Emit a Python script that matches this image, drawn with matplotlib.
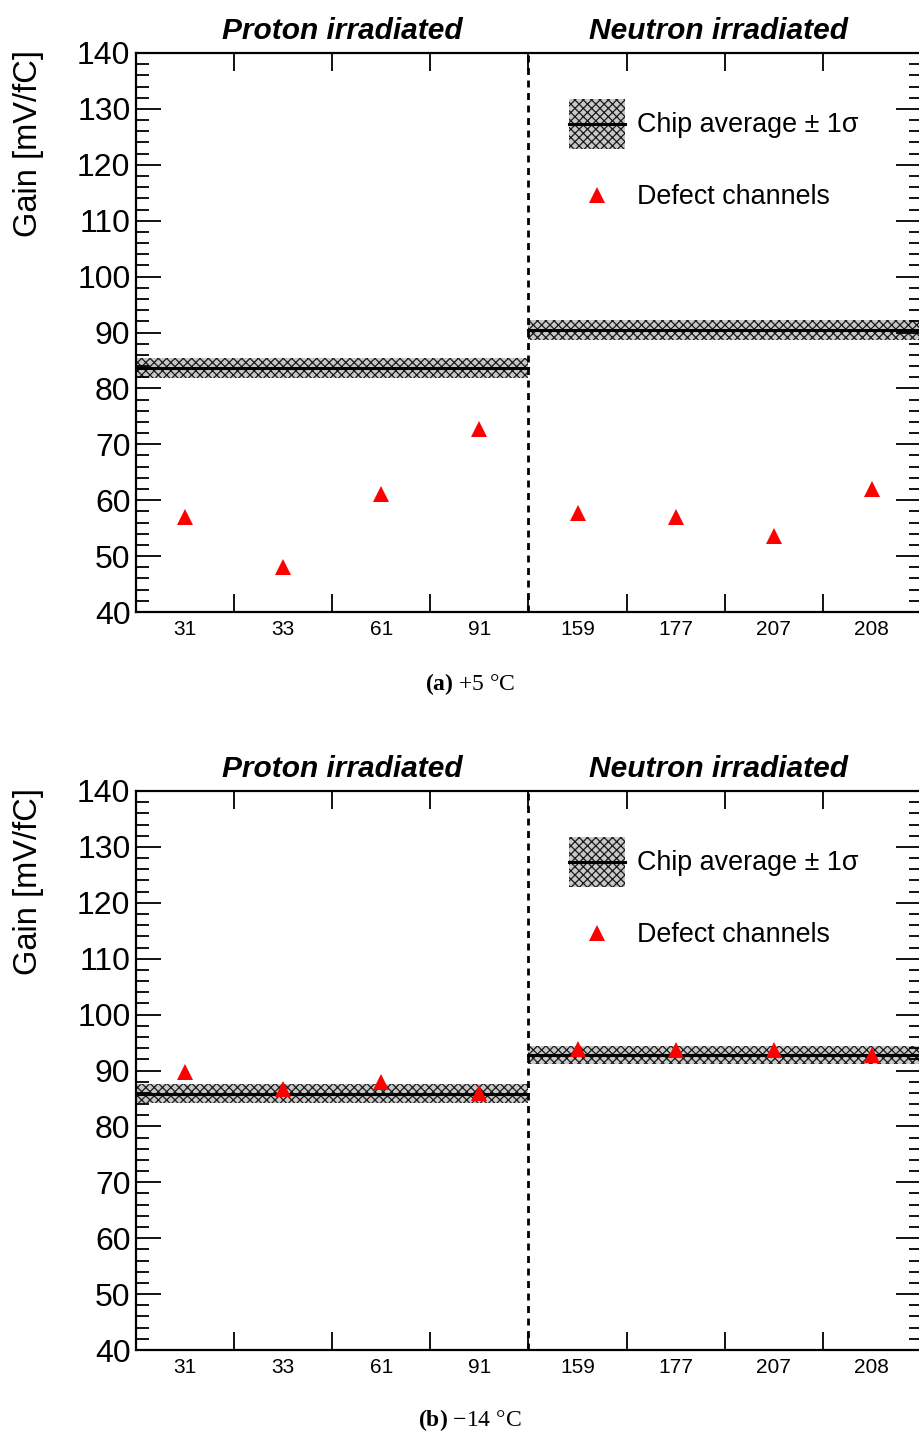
import matplotlib
matplotlib.use("Agg")
import matplotlib.pyplot as plt
from matplotlib.patches import Patch, Rectangle
from matplotlib.lines import Line2D
from matplotlib.legend_handler import HandlerBase
from matplotlib.ticker import MultipleLocator, FixedLocator, NullFormatter, FixedFormatter

plt.rcParams['font.family'] = ['Liberation Sans', 'DejaVu Sans']
plt.rcParams['mathtext.fontset'] = 'custom'
plt.rcParams['mathtext.rm'] = 'Liberation Serif'
plt.rcParams['mathtext.bf'] = 'Liberation Serif:bold'
plt.rcParams['hatch.linewidth'] = 0.9

channels = ['31', '33', '61', '91', '159', '177', '207', '208']
groups = ['Proton irradiated', 'Neutron irradiated']

gain_a = [57.0, 48.0, 61.1, 72.7, 57.7, 57.0, 53.6, 62.0]
avg_a = [83.7, 90.4]
sigma_a = [1.8, 1.8]

gain_b = [89.7, 86.7, 88.0, 85.9, 93.8, 93.7, 93.6, 92.7]
avg_b = [85.8, 92.8]
sigma_b = [1.7, 1.6]

captions = [r'$\mathbf{(a)}$ +5 °C', r'$\mathbf{(b)}$ −14 °C']

band_kw = dict(facecolor='#c8c8c8', edgecolor='#1a1a1a', hatch='xxxx', linewidth=0)


class BandHandler(HandlerBase):
    def create_artists(self, legend, orig_handle, xdescent, ydescent, width, height,
                       fontsize, trans):
        rect = Rectangle((-xdescent, -ydescent), width, height, transform=trans, **band_kw)
        yc = -ydescent + height / 2
        line = Line2D([-xdescent, -xdescent + width], [yc, yc], color='black', lw=2.2,
                      transform=trans)
        return [rect, line]


class MarkerHandler(HandlerBase):
    def create_artists(self, legend, orig_handle, xdescent, ydescent, width, height,
                       fontsize, trans):
        yc = -ydescent + height / 2
        xc = -xdescent + width / 2
        m = Line2D([xc], [yc], linestyle='none', marker='^', color='red', markersize=11,
                   markeredgewidth=0, transform=trans)
        return [m]


fig = plt.figure(figsize=(9.2, 14.32), dpi=100)

W, H = 920.0, 1432.0
panels = [(53, 612, gain_a, avg_a, sigma_a, captions[0], 690),
          (791, 1350, gain_b, avg_b, sigma_b, captions[1], 1426)]

for top, bot, gains, avgs, sigs, cap, capy in panels:
    ax = fig.add_axes([136 / W, 1 - bot / H, 785 / W, (bot - top) / H])
    n = len(channels)
    x = list(range(n))
    half = n // 2
    # bands
    spans = [(-0.5, half - 0.5), (half - 0.5, n - 0.5)]
    for (x0, x1), m, s in zip(spans, avgs, sigs):
        ax.fill_between([x0, x1], [m - s, m - s], [m + s, m + s], zorder=1, **band_kw)
        ax.plot([x0, x1], [m, m], color='black', lw=2.2, zorder=2)
    ax.plot(x, gains, linestyle='none', marker='^', color='red', markersize=11,
            markeredgewidth=0, zorder=3)
    ax.axvline(half - 0.5, color='black', lw=2.0, linestyle=(0, (2.5, 2)), zorder=4)
    ax.set_xlim(-0.5, n - 0.5)
    ax.set_ylim(40, 140)
    # ticks
    ax.yaxis.set_major_locator(MultipleLocator(10))
    ax.yaxis.set_minor_locator(MultipleLocator(2))
    ax.tick_params(axis='y', which='major', direction='in', length=18, width=1.3,
                   labelsize=23, left=True, right=True, pad=4)
    ax.tick_params(axis='y', which='minor', direction='in', length=9, width=1.3,
                   left=True, right=True)
    ax.xaxis.set_major_locator(FixedLocator([i + 0.5 for i in range(n - 1)]))
    ax.xaxis.set_major_formatter(NullFormatter())
    ax.xaxis.set_minor_locator(FixedLocator(x))
    ax.xaxis.set_minor_formatter(FixedFormatter(channels))
    ax.tick_params(axis='x', which='major', direction='in', length=13, width=1.3,
                   bottom=True, top=True)
    ax.tick_params(axis='x', which='minor', length=0, labelsize=15, pad=6)
    for sp in ax.spines.values():
        sp.set_linewidth(1.6)
    ax.set_ylabel('Gain [mV/fC]', fontsize=23.5, ha='right')
    ax.yaxis.set_label_coords(-0.117, 1.005)
    # group titles
    ax.text(1.6, 1.025, groups[0], transform=ax.get_xaxis_transform(), ha='center',
            va='baseline', fontsize=21.5, fontweight='bold', fontstyle='italic')
    ax.text(5.44, 1.025, groups[1], transform=ax.get_xaxis_transform(), ha='center',
            va='baseline', fontsize=21.5, fontweight='bold', fontstyle='italic')
    # legend
    h1 = Patch(**band_kw)
    h2 = Line2D([], [], linestyle='none', marker='^', color='red')
    ax.legend([h1, h2], ['Chip average ± 1σ', 'Defect channels'], loc='upper left',
              bbox_to_anchor=(0.551, 0.918), frameon=False, fontsize=19.4,
              handleheight=2.48, handlelength=2.08, handletextpad=0.45,
              labelspacing=0.8, borderpad=0, borderaxespad=0, numpoints=1,
              handler_map={Patch: BandHandler(), Line2D: MarkerHandler()})
    fig.text(470 / W, 1 - capy / H, cap, ha='center', va='baseline', fontsize=17,
             family='Liberation Serif')

fig.savefig('out.png', dpi=100)
